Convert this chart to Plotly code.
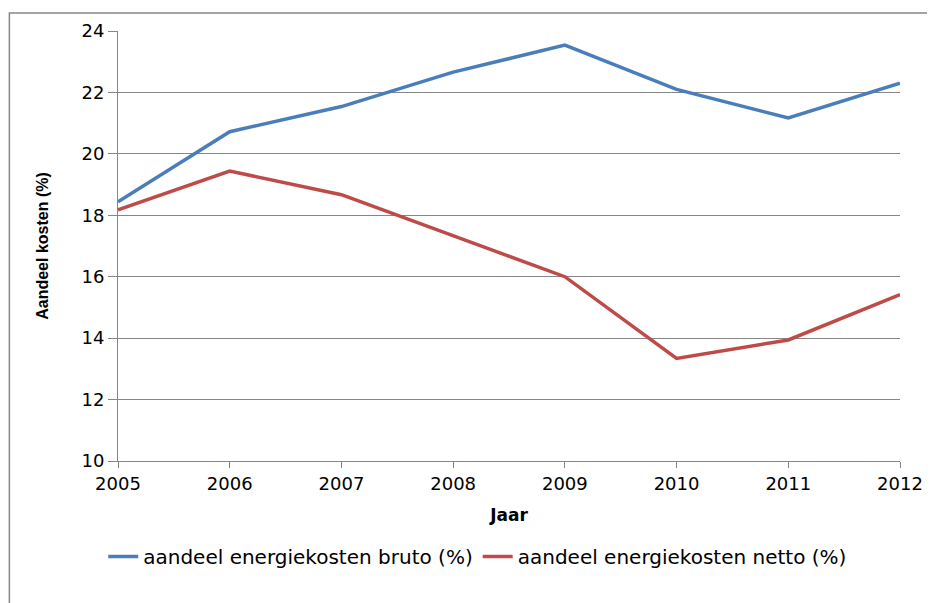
import plotly.graph_objects as go

years = [2005, 2006, 2007, 2008, 2009, 2010, 2011, 2012]
bruto = [18.44, 20.72, 21.54, 22.66, 23.54, 22.10, 21.17, 22.30]
netto = [18.18, 19.44, 18.67, 17.34, 16.00, 13.34, 13.94, 15.42]

fig = go.Figure()
fig.add_trace(
    go.Scatter(
        x=years,
        y=bruto,
        mode='lines',
        name='aandeel energiekosten bruto (%)',
        line=dict(color='#4A7EBB', width=3.5)
    )
)
fig.add_trace(
    go.Scatter(
        x=years,
        y=netto,
        mode='lines',
        name='aandeel energiekosten netto (%)',
        line=dict(color='#BE4B48', width=3.5)
    )
)

fig.update_layout(
    width=927,
    height=595,
    margin=dict(l=110, r=29, t=20, b=142),
    paper_bgcolor='white',
    plot_bgcolor='white',
    font=dict(family='DejaVu Sans', size=18, color='black'),
    legend=dict(
        orientation='h',
        x=0.46, xanchor='center',
        y=-0.222, yanchor='middle',
        font=dict(size=20),
    ),
    xaxis=dict(
        range=[2005, 2012],
        dtick=1,
        showgrid=False,
        showline=True,
        linecolor='#868686',
        ticks='outside',
        ticklen=6,
        tickcolor='#868686',
        title=dict(text='<b>Jaar</b>', font=dict(size=17), standoff=16),
    ),
    yaxis=dict(
        range=[10, 24],
        dtick=2,
        showgrid=True,
        gridcolor='#868686',
        showline=True,
        linecolor='#868686',
        ticks='outside',
        ticklen=9,
        tickcolor='#868686',
        title=dict(text='<b>Aandeel kosten (%)</b>',
                   font=dict(family='Liberation Sans', size=16),
                   standoff=28),
    ),
    shapes=[
        dict(type='rect', xref='paper', yref='paper',
             x0=-0.1389, x1=1.06, y0=-0.4, y1=1.0416,
             line=dict(color='#868686', width=1.5), layer='below')
    ],
)

fig.write_html("out.html")
